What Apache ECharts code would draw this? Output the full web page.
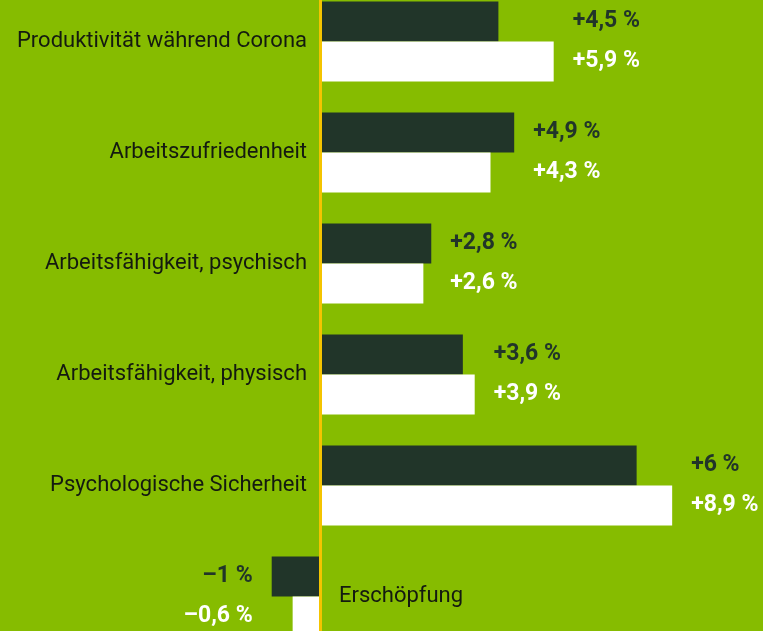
<!DOCTYPE html>
<html>
<head>
<meta charset="utf-8">
<script src="https://cdn.jsdelivr.net/npm/echarts@6/dist/echarts.min.js"></script>
<style>
html,body{margin:0;padding:0;background:#86bc00;}
#chart{width:763px;height:631px;}
</style>
</head>
<body>
<div id="chart"></div>
<script>
const categories = [
  'Produktivität während Corona',
  'Arbeitszufriedenheit',
  'Arbeitsfähigkeit, psychisch',
  'Arbeitsfähigkeit, physisch',
  'Psychologische Sicherheit',
  'Erschöpfung'
];
// bar lengths as drawn in the picture (percent change)
const darkValues = [4.5, 4.9, 2.8, 3.6, 8.0, -1.24];
const whiteValues = [5.9, 4.3, 2.6, 3.9, 8.9, -0.71];
// value labels as printed
const darkLabels = ['+4,5 %', '+4,9 %', '+2,8 %', '+3,6 %', '+6 %', '–1 %'];
const whiteLabels = ['+5,9 %', '+4,3 %', '+2,6 %', '+3,9 %', '+8,9 %', '–0,6 %'];

const DARK = '#213529';
const WHITE = '#ffffff';
const GREEN = '#86bc00';
const YELLOW = '#f4c400';
const LAST = categories.length - 1;

// invisible spacer bars so both labels of a group align at the group's outer end
function pads(values) {
  return values.map((v, i) => {
    const a = darkValues[i], b = whiteValues[i];
    const outer = v >= 0 ? Math.max(a, b) : Math.min(a, b);
    return outer - v;
  });
}
function padSeries(name, stack, values, labels, color) {
  return {
    name: name, type: 'bar', stack: stack, barWidth: 40, barGap: '0%',
    silent: true,
    itemStyle: { color: 'rgba(0,0,0,0)' },
    data: pads(values).map((p, i) => ({
      value: p,
      label: {
        show: true,
        position: values[i] >= 0 ? 'right' : 'left',
        distance: 19,
        formatter: labels[i],
        color: color,
        fontFamily: 'Roboto',
        fontWeight: 'bold',
        fontSize: 23
      }
    })),
    z: 3
  };
}

const chart = echarts.init(document.getElementById('chart'), null, { renderer: 'canvas' });
chart.setOption({
  backgroundColor: GREEN,
  animation: false,
  grid: { left: 0, right: 0, top: -14, bottom: -21, containLabel: false, outerBoundsMode: 'none' },
  xAxis: {
    type: 'value', min: -8.12, max: 11.2,
    axisLine: { show: false }, axisTick: { show: false },
    axisLabel: { show: false }, splitLine: { show: false }
  },
  yAxis: {
    type: 'category', inverse: true,
    data: categories.map((c, i) => i === LAST
      ? { value: c, textStyle: { align: 'left', padding: [0, 0, 0, 32] } }
      : c),
    z: 5,
    axisLine: { show: true, onZero: true, lineStyle: { color: YELLOW, width: 3 } },
    axisTick: { show: false },
    splitLine: { show: false },
    axisLabel: {
      margin: -307, color: '#141a10', fontFamily: 'Roboto', fontSize: 22
    }
  },
  series: [
    { name: 'dark', type: 'bar', stack: 'd', barWidth: 40, barGap: '0%',
      itemStyle: { color: DARK }, data: darkValues },
    padSeries('darkPad', 'd', darkValues, darkLabels, DARK),
    { name: 'white', type: 'bar', stack: 'w', barWidth: 40, barGap: '0%',
      itemStyle: { color: WHITE }, data: whiteValues },
    padSeries('whitePad', 'w', whiteValues, whiteLabels, WHITE)
  ]
});
</script>
</body>
</html>
